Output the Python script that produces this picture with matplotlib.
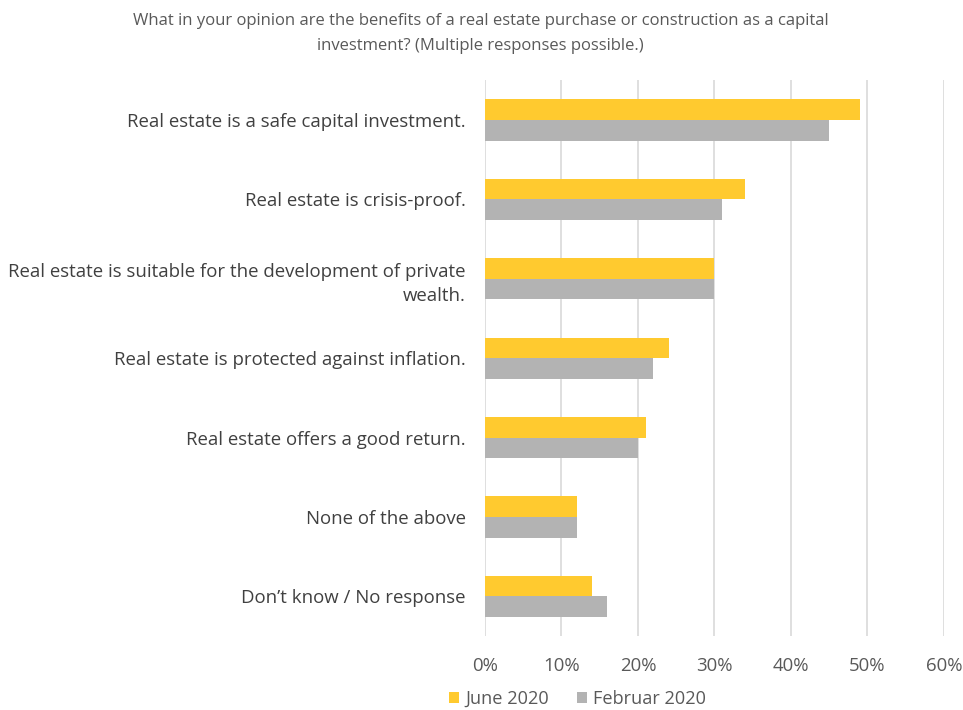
import matplotlib.pyplot as plt
import numpy as np

plt.rcParams['font.family'] = ['Open Sans', 'DejaVu Sans']

categories = [
    'Real estate is a safe capital investment.',
    'Real estate is crisis-proof.',
    'Real estate is suitable for the development of private\nwealth.',
    'Real estate is protected against inflation.',
    'Real estate offers a good return.',
    'None of the above',
    'Don\u2019t know / No response',
]
june_2020 = [49, 34, 30, 24, 21, 12, 14]
feb_2020 = [45, 31, 30, 22, 20, 12, 16]
series_names = ['June 2020', 'Februar 2020']
xticks = [0, 10, 20, 30, 40, 50, 60]

yellow = '#FFCA2F'
grey = '#B3B3B3'
text_col = '#404040'
tick_col = '#595959'

fig = plt.figure(figsize=(9.63, 7.1), dpi=100)
ax = fig.add_axes([0.5036, 0.104, 0.4766, 0.783])

y = np.arange(len(categories))
h = 0.26
ax.barh(y - h / 2, june_2020, height=h, color=yellow, label=series_names[0], zorder=3)
ax.barh(y + h / 2, feb_2020, height=h, color=grey, label=series_names[1], zorder=3)

ax.set_xlim(0, 60)
ax.set_ylim(len(categories) - 0.5, -0.5)
ax.set_xticks(xticks)
ax.set_xticklabels([f'{t}%' for t in xticks])
ax.set_yticks(y)
ax.set_yticklabels(categories, ha='right', multialignment='right')
for lab in ax.get_yticklabels():
    lab.set_linespacing(1.45)

ax.grid(axis='x', color='#D9D9D9', linewidth=1.2, zorder=0)
for s in ax.spines.values():
    s.set_visible(False)
ax.tick_params(axis='both', length=0)
ax.tick_params(axis='y', pad=14, labelsize=13.4, labelcolor=text_col)
ax.tick_params(axis='x', pad=15, labelsize=13.4, labelcolor=tick_col)

fig.text(0.499, 0.981, 'What in your opinion are the benefits of a real estate purchase or construction as a capital\ninvestment? (Multiple responses possible.)',
         ha='center', va='top', fontsize=12, color=tick_col, linespacing=1.75)

fig.legend(loc='center left', bbox_to_anchor=(0.459, 0.016), ncol=2, frameon=False,
           fontsize=13.1, labelcolor=tick_col, handlelength=0.55, handleheight=0.55,
           handletextpad=0.35, columnspacing=1.5, borderaxespad=0)

fig.savefig('out.png')
